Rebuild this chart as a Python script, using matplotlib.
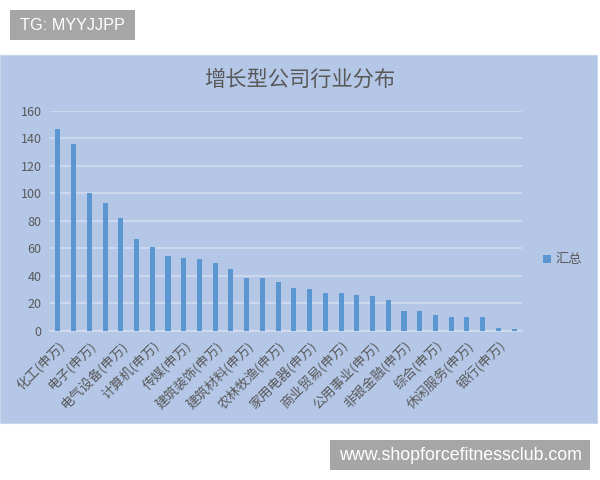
import matplotlib
matplotlib.use("Agg")
import matplotlib.pyplot as plt
import numpy as np
from matplotlib.patches import Rectangle

plt.rcParams['font.family'] = ['Noto Sans CJK SC', 'DejaVu Sans']

# data (30 bars, Excel only labels every other one)
values = [147, 136, 100, 93, 82, 67, 61, 54, 53, 52, 49, 45, 38, 38, 35,
          31, 30, 27, 27, 26, 25, 22, 14, 14, 11, 10, 10, 10, 2, 1]
labels = ['化工(申万)', '电子(申万)', '电气设备(申万)', '计算机(申万)', '传媒(申万)',
          '建筑装饰(申万)', '建筑材料(申万)', '农林牧渔(申万)', '家用电器(申万)',
          '商业贸易(申万)', '公用事业(申万)', '非银金融(申万)', '综合(申万)',
          '休闲服务(申万)', '银行(申万)']
yticks = [0, 20, 40, 60, 80, 100, 120, 140, 160]
title = '增长型公司行业分布'
series_name = '汇总'

bg = '#b4c7e7'
bar_color = '#5b96d0'
grid_color = '#d3def0'
text_color = '#595959'

fig = plt.figure(figsize=(6, 4.8), dpi=100)
fig.patch.set_facecolor('white')

def fig_rect(x0, y0, x1, y1, **kw):
    # pixel box (top-left origin) -> figure-fraction rectangle
    r = Rectangle((x0 / 600, 1 - y1 / 480), (x1 - x0) / 600, (y1 - y0) / 480,
                  transform=fig.transFigure, **kw)
    fig.patches.append(r)

# light blue chart area
fig_rect(0, 55, 597, 423, facecolor=bg, edgecolor='#c9d5ea', linewidth=0.8, zorder=-5)

ax = fig.add_axes([50 / 600, 1 - 330.5 / 480, 472 / 600, 219.5 / 480])
ax.set_facecolor('none')
ax.set_zorder(2)
x = np.arange(len(values))
bars = ax.bar(x, values, width=0.32, color=bar_color, zorder=3, label=series_name)
ax.set_xlim(-0.5, len(values) - 0.5)
ax.set_ylim(0, 160)
ax.set_yticks(yticks)
ax.set_yticklabels([str(v) for v in yticks], fontsize=9, color=text_color)
ax.yaxis.grid(True, color=grid_color, linewidth=1.1, zorder=1)
ax.set_axisbelow(True)
ax.set_xticks(x[::2])
ax.set_xticklabels(labels, rotation=45, ha='right', rotation_mode='anchor',
                   fontsize=9.5, color=text_color)
ax.tick_params(length=0, pad=6)
for s in ['top', 'right', 'left']:
    ax.spines[s].set_visible(False)
ax.spines['bottom'].set_color(grid_color)
ax.spines['bottom'].set_linewidth(1.1)

fig.text(0.5, 1 - 80 / 480, title, ha='center', va='center', fontsize=15.3,
         color=text_color, zorder=3)

ax.legend(loc='center left', bbox_to_anchor=(538 / 600, 1 - 260 / 480),
          bbox_transform=fig.transFigure, frameon=False, fontsize=9.5,
          handlelength=0.6, handleheight=0.6, handletextpad=0.3,
          labelcolor=text_color, borderaxespad=0)

# watermarks
fig_rect(10, 10, 135, 40, facecolor='#a6a6a6', edgecolor='none', zorder=4)
fig.text(72.5 / 600, 1 - 25 / 480, 'TG: MYYJJPP', ha='center', va='center',
         fontsize=11.7, color='white', family=['Liberation Sans'], zorder=5)
fig_rect(330, 440, 590, 470, facecolor='#a6a6a6', edgecolor='none', zorder=4)
fig.text(460 / 600, 1 - 455 / 480, 'www.shopforcefitnessclub.com', ha='center',
         va='center', fontsize=12.8, color='white', family=['Liberation Sans'], zorder=5)

fig.savefig('out.png', dpi=100, facecolor='white')
